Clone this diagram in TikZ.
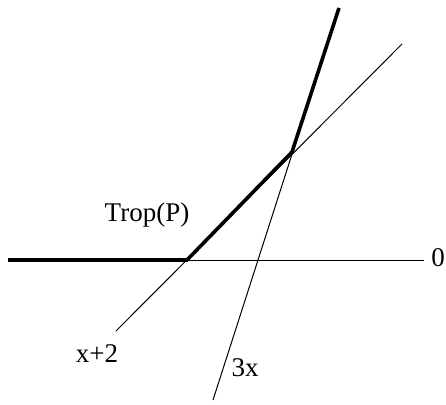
\documentclass[tikz,border=0pt]{standalone}
\usepackage{fontspec}
\setmainfont{Liberation Serif}
\begin{document}
\begin{tikzpicture}[x=1pt,y=-1pt,
  thinline/.style={line width=1pt},
  thickline/.style={line width=3.6pt,line join=miter},
  lbl/.style={font=\fontsize{27}{30}\selectfont,inner sep=0pt}]
\useasboundingbox (0,0) rectangle (446,404);
\coordinate (hl) at (8,260);
\coordinate (hr) at (424,260);
\coordinate (k1) at (187,260);
\coordinate (k2) at (292,152);
\coordinate (top) at (339,8);
\coordinate (aL) at (116,331);
\coordinate (aR) at (402,44);
\coordinate (bB) at (213,400);
% thin lines
\draw[thinline] (hl) -- (hr);
\draw[thinline] (aL) -- (aR);
\draw[thinline] (bB) -- (top);
% thick tropical curve
\draw[thickline] (hl) -- (k1) -- (k2) -- (top);
% labels
\node[lbl] (zero) at (438,258) {0};
\node[lbl] (lx2) at (97,354) {x+2};
\node[lbl] (l3x) at (245,368) {3x};
\node[lbl] (trop) at (147,215) {Trop(P)};
\end{tikzpicture}
\end{document}
